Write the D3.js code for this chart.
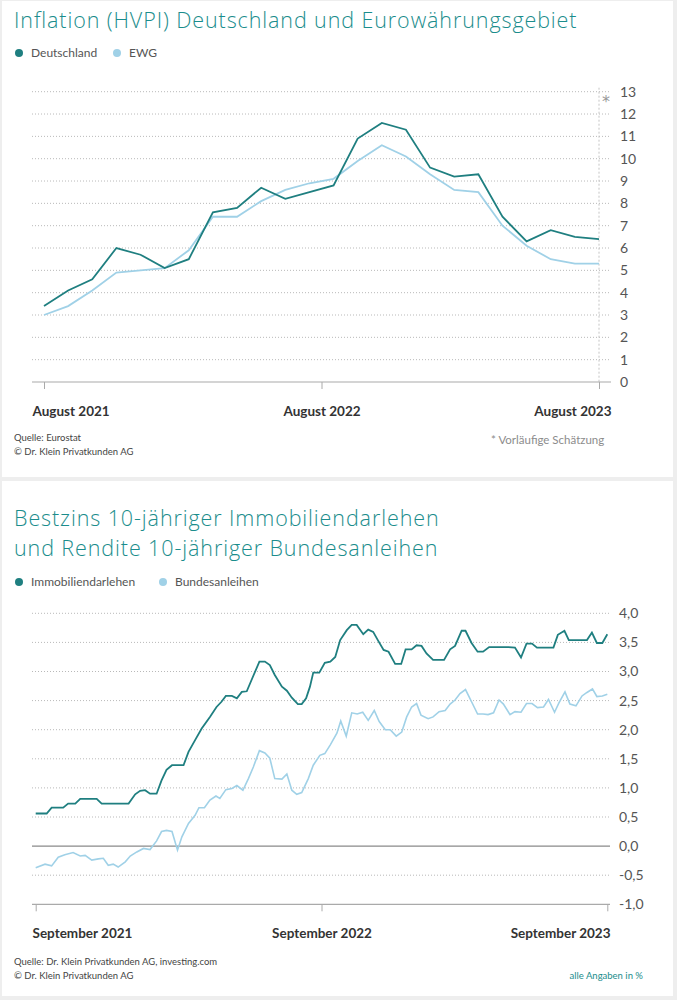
<!DOCTYPE html>
<html>
<head>
<meta charset="utf-8">
<script src="https://cdn.jsdelivr.net/npm/d3@7"></script>
<style>
  body { margin: 0; background: #fff; }
  svg { display: block; font-family: "Lato", "Open Sans", sans-serif; }
  .title { font-family: "Open Sans", "Lato", sans-serif; }
</style>
</head>
<body>
<div id="chart"></div>
<script>
// Inflation (HVPI), monthly values
const inflMonths = ["Aug 21","Sep 21","Okt 21","Nov 21","Dez 21","Jan 22","Feb 22","Mär 22","Apr 22","Mai 22","Jun 22","Jul 22",
  "Aug 22","Sep 22","Okt 22","Nov 22","Dez 22","Jan 23","Feb 23","Apr 23","Mai 23","Jun 23","Jul 23","Aug 23"]
const inflDE  = [3.4,4.1,4.6,6.0,5.7,5.1,5.5,7.6,7.8,8.7,8.2,8.5,8.8,10.9,11.6,11.3,9.6,9.2,9.3,7.4,6.3,6.8,6.5,6.4]
const inflEWG = [3.0,3.4,4.1,4.9,5.0,5.1,5.9,7.4,7.4,8.1,8.6,8.9,9.1,9.9,10.6,10.1,9.3,8.6,8.5,7.0,6.1,5.5,5.3,5.3]
const inflTicks = [0,1,2,3,4,5,6,7,8,9,10,11,12,13]
const inflXLabels = ["August 2021","August 2022","August 2023"]

// Zinsen: weeks since September 2021 and rate in %
const immoWeek = [0,2.0,2.9,5.0,5.9,7.2,8.1,11.1,12.0,16.9,18.1,19.0,19.9,20.8,22.0,22.9,23.8,24.8,26.9,27.8,29.0,30.2,31.7,32.9,33.8,
  34.6,35.7,36.6,37.5,38.4,40.7,41.7,42.6,43.5,44.8,45.7,46.6,47.7,48.4,49.2,49.9,50.5,51.6,52.6,53.6,54.5,55.4,56.6,57.5,58.4,
  59.6,60.5,61.4,62.3,63.3,64.2,65.4,66.5,67.3,68.4,69.3,70.2,71.1,72.3,74.3,75.4,76.3,77.5,78.2,79.3,80.4,81.4,82.5,86.0,87.2,
  88.3,89.3,90.3,91.2,94.2,95.0,96.2,97.0,100.3,101.2,102.1,103.1,104]
const immoRate = [0.56,0.56,0.66,0.66,0.73,0.73,0.81,0.81,0.73,0.73,0.89,0.95,0.96,0.90,0.90,1.13,1.31,1.39,1.39,1.62,1.82,2.02,2.22,2.39,2.48,
  2.58,2.58,2.54,2.65,2.66,3.17,3.17,3.11,2.94,2.74,2.67,2.55,2.44,2.44,2.54,2.74,2.98,2.98,3.15,3.17,3.25,3.54,3.71,3.80,3.80,
  3.64,3.72,3.68,3.53,3.37,3.34,3.13,3.13,3.38,3.38,3.45,3.44,3.31,3.20,3.20,3.38,3.44,3.70,3.70,3.49,3.34,3.34,3.42,3.42,3.41,
  3.24,3.48,3.48,3.41,3.41,3.63,3.70,3.54,3.54,3.67,3.49,3.49,3.64]
const bundWeek = [0,1.7,2.9,4.1,5.3,6.8,8.1,9.0,10.2,11.4,12.3,13.2,14.1,15.0,16.3,17.2,18.4,19.6,20.8,22.0,22.9,23.8,24.8,25.8,26.6,
  27.8,29.0,29.7,30.7,31.7,32.8,33.5,34.6,35.7,36.6,37.7,38.7,39.6,40.7,41.7,42.6,43.5,44.8,45.7,46.6,47.5,48.4,49.6,50.5,51.7,
  52.6,53.6,54.8,55.5,56.5,57.5,58.5,59.5,60.5,61.6,62.5,63.6,64.5,65.6,66.6,67.5,68.4,69.3,70.1,71.4,72.3,73.4,74.5,75.4,76.3,
  77.2,78.2,79.3,80.4,81.4,82.3,83.3,84.3,85.1,86.3,87.2,88.3,89.3,90.3,91.3,92.4,93.3,94.4,95.2,96.3,97.2,98.3,99.4,100.3,101.3,
  102.1,103.1,104]
const bundRate = [-0.37,-0.31,-0.34,-0.19,-0.15,-0.11,-0.17,-0.16,-0.24,-0.22,-0.21,-0.33,-0.31,-0.36,-0.27,-0.17,-0.10,-0.04,-0.06,0.09,0.25,0.27,0.25,-0.07,0.16,
  0.39,0.53,0.66,0.66,0.79,0.86,0.82,0.97,0.99,1.04,0.96,1.16,1.36,1.64,1.60,1.51,1.16,1.15,1.24,0.96,0.89,0.92,1.16,1.39,1.56,
  1.59,1.74,1.94,2.15,1.89,2.29,2.27,2.30,2.16,2.33,2.14,2.00,2.00,1.89,1.96,2.22,2.39,2.45,2.25,2.19,2.22,2.31,2.33,2.44,2.51,
  2.62,2.69,2.48,2.27,2.27,2.26,2.29,2.51,2.44,2.26,2.31,2.30,2.45,2.45,2.38,2.39,2.52,2.30,2.46,2.65,2.44,2.41,2.58,2.64,2.70,
  2.57,2.58,2.61]
const zinsTicks = [-1,-0.5,0,0.5,1,1.5,2,2.5,3,3.5,4]
const zinsXLabels = ["September 2021","September 2022","September 2023"]

const DARK = "#1f7f80"
const LIGHT = "#a0d1e7"
const TEAL = "#1b8d8c"
const GRID = "#b9b9b9"

const svg = d3.select("#chart").append("svg")
  .attr("width", 677)
  .attr("height", 1000)

// card frames
svg.append("rect").attr("x", 0).attr("y", 0).attr("width", 677).attr("height", 1000).attr("fill", "#eeeeee")
svg.append("rect").attr("x", 2).attr("y", 1).attr("width", 671).attr("height", 476).attr("fill", "#fff")
svg.append("rect").attr("x", 2).attr("y", 481).attr("width", 671).attr("height", 515).attr("fill", "#fff")

function legend(y, items) {
  items.forEach(it => {
    svg.append("circle").attr("cx", it.x).attr("cy", y).attr("r", 4).attr("fill", it.color)
    svg.append("text").attr("x", it.x + 12).attr("y", y + 4)
      .attr("font-size", "12px").attr("fill", "#555").text(it.label)
  })
}

// title lines go into one text element, one tspan per line
function title(y, lines) {
  const t = svg.append("text").attr("class", "title").attr("x", 14).attr("y", y)
    .attr("font-size", "21.5px").attr("font-weight", 300).attr("letter-spacing", "0.9px").attr("fill", TEAL)
  lines.forEach((str, i) => {
    t.append("tspan").attr("x", 14).attr("dy", i === 0 ? 0 : 29.5).text(str)
  })
}

function gridAndYAxis(g, y, ticks, fmt, x0, x1, solid) {
  ticks.forEach(t => {
    if (t === ticks[0]) return
    g.append("line")
      .attr("x1", x0).attr("x2", x1)
      .attr("y1", y(t)).attr("y2", y(t))
      .attr("stroke", solid.includes(t) ? "#8a8a8a" : GRID)
      .attr("stroke-width", solid.includes(t) ? 1.2 : 1)
      .attr("stroke-dasharray", solid.includes(t) ? null : "1,2")
  })
  const yAxis = d3.axisRight(y).tickValues(ticks).tickSize(0).tickPadding(0).tickFormat(fmt)
  g.append("g")
    .attr("transform", `translate(${x1 + 9},0)`)
    .call(yAxis)
    .call(a => a.select(".domain").remove())
    .selectAll("text")
      .attr("font-family", "Lato, sans-serif")
      .attr("font-size", "14px")
      .attr("fill", "#555")
}

function xAxis(g, x, yPos, tickVals, labels, x0, x1) {
  g.append("line")
    .attr("x1", x0).attr("x2", x1)
    .attr("y1", yPos).attr("y2", yPos)
    .attr("stroke", "#aaa").attr("stroke-width", 1.2)
  const axis = d3.axisBottom(x).tickValues(tickVals).tickSize(7).tickSizeOuter(0)
    .tickFormat((d, i) => labels[i])
  const ax = g.append("g")
    .attr("transform", `translate(0,${yPos})`)
    .call(axis)
  ax.select(".domain").remove()
  ax.selectAll(".tick line").attr("stroke", "#aaa")
  ax.selectAll("text")
    .attr("font-family", "Lato, sans-serif")
    .attr("font-size", "13.5px")
    .attr("font-weight", "bold")
    .attr("fill", "#333")
    .attr("dy", "1.75em")
    .attr("text-anchor", (d, i) => i === 0 ? "start" : (i === labels.length - 1 ? "end" : "middle"))
    .attr("x", (d, i) => i === 0 ? x0 - x(d) : (i === labels.length - 1 ? x1 - x(d) : 0))
}

// ---------- Chart 1: Inflation ----------
title(28, ["Inflation (HVPI) Deutschland und Eurowährungsgebiet"])
legend(53, [{x: 19, color: DARK, label: "Deutschland"}, {x: 117, color: LIGHT, label: "EWG"}])

const g1 = svg.append("g")
const x1 = d3.scaleLinear().domain([0, inflMonths.length - 1]).range([44, 599])
const y1 = d3.scaleLinear().domain([0, 13]).range([382, 91.7])

gridAndYAxis(g1, y1, inflTicks, d => d, 32, 611, [])

g1.append("line")
  .attr("x1", x1(inflMonths.length - 1)).attr("x2", x1(inflMonths.length - 1))
  .attr("y1", y1(13) - 4).attr("y2", y1(0))
  .attr("stroke", "#c4c4c4").attr("stroke-dasharray", "2,2")
g1.append("text").attr("x", 602).attr("y", 107)
  .attr("font-family", "DejaVu Sans, sans-serif")
  .attr("font-size", "16px").attr("fill", "#999").text("*")

xAxis(g1, x1, 382, [0, (inflMonths.length - 1) / 2, inflMonths.length - 1], inflXLabels, 32, 611)

const line1 = d3.line().x((d, i) => x1(i)).y(d => y1(d))
g1.append("path").datum(inflEWG).attr("d", line1)
  .attr("fill", "none").attr("stroke", LIGHT).attr("stroke-width", 1.8)
g1.append("path").datum(inflDE).attr("d", line1)
  .attr("fill", "none").attr("stroke", DARK).attr("stroke-width", 1.8)

svg.append("text").attr("x", 14).attr("y", 441).attr("font-size", "9.5px").attr("fill", "#444").text("Quelle: Eurostat")
svg.append("text").attr("x", 14).attr("y", 455).attr("font-size", "9.5px").attr("fill", "#444").text("© Dr. Klein Privatkunden AG")
svg.append("text").attr("x", 491).attr("y", 444).attr("font-size", "11.5px").attr("fill", "#8c8c8c").text("*  Vorläufige Schätzung")

// ---------- Chart 2: Zinsen ----------
title(526, ["Bestzins 10-jähriger Immobiliendarlehen", "und Rendite 10-jähriger Bundesanleihen"])
legend(582, [{x: 19, color: DARK, label: "Immobiliendarlehen"}, {x: 163, color: LIGHT, label: "Bundesanleihen"}])

const g2 = svg.append("g")
const x2 = d3.scaleLinear().domain([0, 104]).range([35.7, 607.3])
const y2 = d3.scaleLinear().domain([-1, 4]).range([904.3, 613.3])

gridAndYAxis(g2, y2, zinsTicks, d => d.toFixed(1).replace(".", ","), 32, 610, [0])
xAxis(g2, x2, 904.3, [0, 52, 104], zinsXLabels, 32, 610)

const line2 = d3.line().x(d => x2(d[0])).y(d => y2(d[1]))
g2.append("path").datum(d3.zip(bundWeek, bundRate)).attr("d", line2)
  .attr("fill", "none").attr("stroke", LIGHT).attr("stroke-width", 1.6)
g2.append("path").datum(d3.zip(immoWeek, immoRate)).attr("d", line2)
  .attr("fill", "none").attr("stroke", DARK).attr("stroke-width", 1.8)

svg.append("text").attr("x", 14).attr("y", 965).attr("font-size", "9.5px").attr("fill", "#444")
  .text("Quelle: Dr. Klein Privatkunden AG, investing.com")
svg.append("text").attr("x", 14).attr("y", 979).attr("font-size", "9.5px").attr("fill", "#444")
  .text("© Dr. Klein Privatkunden AG")
svg.append("text").attr("x", 643).attr("y", 979).attr("text-anchor", "end")
  .attr("font-size", "9.5px").attr("fill", TEAL).text("alle Angaben in %")
</script>
</body>
</html>
